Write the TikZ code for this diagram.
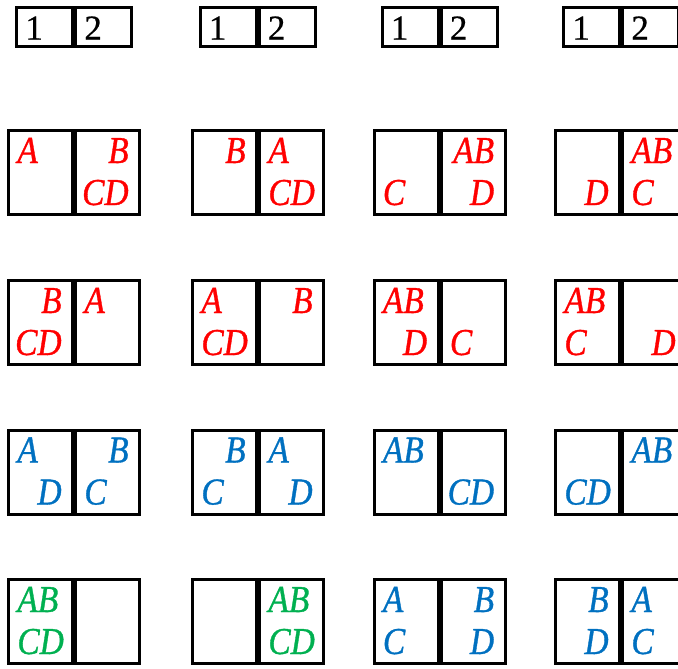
\documentclass[tikz,border=0pt]{standalone}
\usepackage{fontspec}
\setmainfont{Liberation Serif}[FakeBold=0.6]
\newfontfamily\letterfont{Liberation Serif}[FakeStretch=0.88, FakeBold=0.9]
\usepackage{tikz}
\usetikzlibrary{positioning}

\definecolor{tred}{RGB}{255,0,0}
\definecolor{tblue}{RGB}{0,112,192}
\definecolor{tgreen}{RGB}{0,176,80}

\begin{document}
\begin{tikzpicture}[
    x=0.5pt, y=-0.5pt,
    cell/.style={
      draw,
      line width=1.5pt,
      minimum width=32pt,
      minimum height=42pt,
      inner sep=0pt
    },
    headcell/.style={
      cell,
      minimum width=28pt,
      minimum height=19.5pt
    },
    digit/.style={
      inner sep=0pt,
      anchor=base west,
      xshift=5pt, yshift=-16.8pt,
      font=\fontsize{17.5}{19}\selectfont
    },
    letters/.style={
      inner sep=0pt,
      font=\fontsize{19}{22}\selectfont\letterfont\itshape
    },
    topleft/.style={letters, anchor=base west, xshift=5pt, yshift=-17pt},
    topright/.style={letters, anchor=base east, xshift=-6pt, yshift=-17pt},
    lowleft/.style={letters, anchor=base west, xshift=5pt, yshift=-38pt},
    lowright/.style={letters, anchor=base east, xshift=-6pt, yshift=-38pt}
  ]
    \useasboundingbox (0,0) rectangle (678,668);

    % Header row
    \foreach \col/\xc in {1/74, 2/257.5, 3/439.5, 4/621} {
      \node[headcell] (h\col a) at (\xc-29.5, 27) {};
      \node[headcell, right=0pt of h\col a] (h\col b) {};
      \node[digit] (h\col one) at (h\col a.north west) {1};
      \node[digit] (h\col two) at (h\col b.north west) {2};
    }

    % Cell pairs
    \foreach \row/\yc in {2/172.5, 3/322.5, 4/472, 5/621.5}
      \foreach \col/\xc in {1/74, 2/258, 3/439.5, 4/621} {
        \node[cell] (r\row c\col a) at (\xc-33.5, \yc) {};
        \node[cell, right=0pt of r\row c\col a] (r\row c\col b) {};
      }

    % Row 2
    \begin{scope}[every node/.append style={text=tred}]
      \node[topleft] (r2c1-A) at (r2c1a.north west) {A};
      \node[topright] (r2c1-B) at (r2c1b.north east) {B};
      \node[lowright] (r2c1-CD) at (r2c1b.north east) {CD};

      \node[topright] (r2c2-B) at (r2c2a.north east) {B};
      \node[topleft] (r2c2-A) at (r2c2b.north west) {A};
      \node[lowleft] (r2c2-CD) at (r2c2b.north west) {CD};

      \node[lowleft] (r2c3-C) at (r2c3a.north west) {C};
      \node[topright] (r2c3-AB) at (r2c3b.north east) {AB};
      \node[lowright] (r2c3-D) at (r2c3b.north east) {D};

      \node[lowright] (r2c4-D) at (r2c4a.north east) {D};
      \node[topleft] (r2c4-AB) at (r2c4b.north west) {AB};
      \node[lowleft] (r2c4-C) at (r2c4b.north west) {C};
    \end{scope}

    % Row 3
    \begin{scope}[every node/.append style={text=tred}]
      \node[topright] (r3c1-B) at (r3c1a.north east) {B};
      \node[lowright] (r3c1-CD) at (r3c1a.north east) {CD};
      \node[topleft] (r3c1-A) at (r3c1b.north west) {A};

      \node[topleft] (r3c2-A) at (r3c2a.north west) {A};
      \node[lowleft] (r3c2-CD) at (r3c2a.north west) {CD};
      \node[topright] (r3c2-B) at (r3c2b.north east) {B};

      \node[topleft] (r3c3-AB) at (r3c3a.north west) {AB};
      \node[lowright] (r3c3-D) at (r3c3a.north east) {D};
      \node[lowleft] (r3c3-C) at (r3c3b.north west) {C};

      \node[topleft] (r3c4-AB) at (r3c4a.north west) {AB};
      \node[lowleft] (r3c4-C) at (r3c4a.north west) {C};
      \node[lowright] (r3c4-D) at (r3c4b.north east) {D};
    \end{scope}

    % Row 4
    \begin{scope}[every node/.append style={text=tblue}]
      \node[topleft] (r4c1-A) at (r4c1a.north west) {A};
      \node[lowright] (r4c1-D) at (r4c1a.north east) {D};
      \node[topright] (r4c1-B) at (r4c1b.north east) {B};
      \node[lowleft] (r4c1-C) at (r4c1b.north west) {C};

      \node[topright] (r4c2-B) at (r4c2a.north east) {B};
      \node[lowleft] (r4c2-C) at (r4c2a.north west) {C};
      \node[topleft] (r4c2-A) at (r4c2b.north west) {A};
      \node[lowright] (r4c2-D) at (r4c2b.north east) {D};

      \node[topleft] (r4c3-AB) at (r4c3a.north west) {AB};
      \node[lowright] (r4c3-CD) at (r4c3b.north east) {CD};

      \node[lowleft] (r4c4-CD) at (r4c4a.north west) {CD};
      \node[topleft] (r4c4-AB) at (r4c4b.north west) {AB};
    \end{scope}

    % Row 5
    \begin{scope}[every node/.append style={text=tgreen}]
      \node[topleft] (r5c1-AB) at (r5c1a.north west) {AB};
      \node[lowleft] (r5c1-CD) at (r5c1a.north west) {CD};

      \node[topleft] (r5c2-AB) at (r5c2b.north west) {AB};
      \node[lowleft] (r5c2-CD) at (r5c2b.north west) {CD};
    \end{scope}
    \begin{scope}[every node/.append style={text=tblue}]
      \node[topleft] (r5c3-A) at (r5c3a.north west) {A};
      \node[lowleft] (r5c3-C) at (r5c3a.north west) {C};
      \node[topright] (r5c3-B) at (r5c3b.north east) {B};
      \node[lowright] (r5c3-D) at (r5c3b.north east) {D};

      \node[topright] (r5c4-B) at (r5c4a.north east) {B};
      \node[lowright] (r5c4-D) at (r5c4a.north east) {D};
      \node[topleft] (r5c4-A) at (r5c4b.north west) {A};
      \node[lowleft] (r5c4-C) at (r5c4b.north west) {C};
    \end{scope}

\end{tikzpicture}
\end{document}
